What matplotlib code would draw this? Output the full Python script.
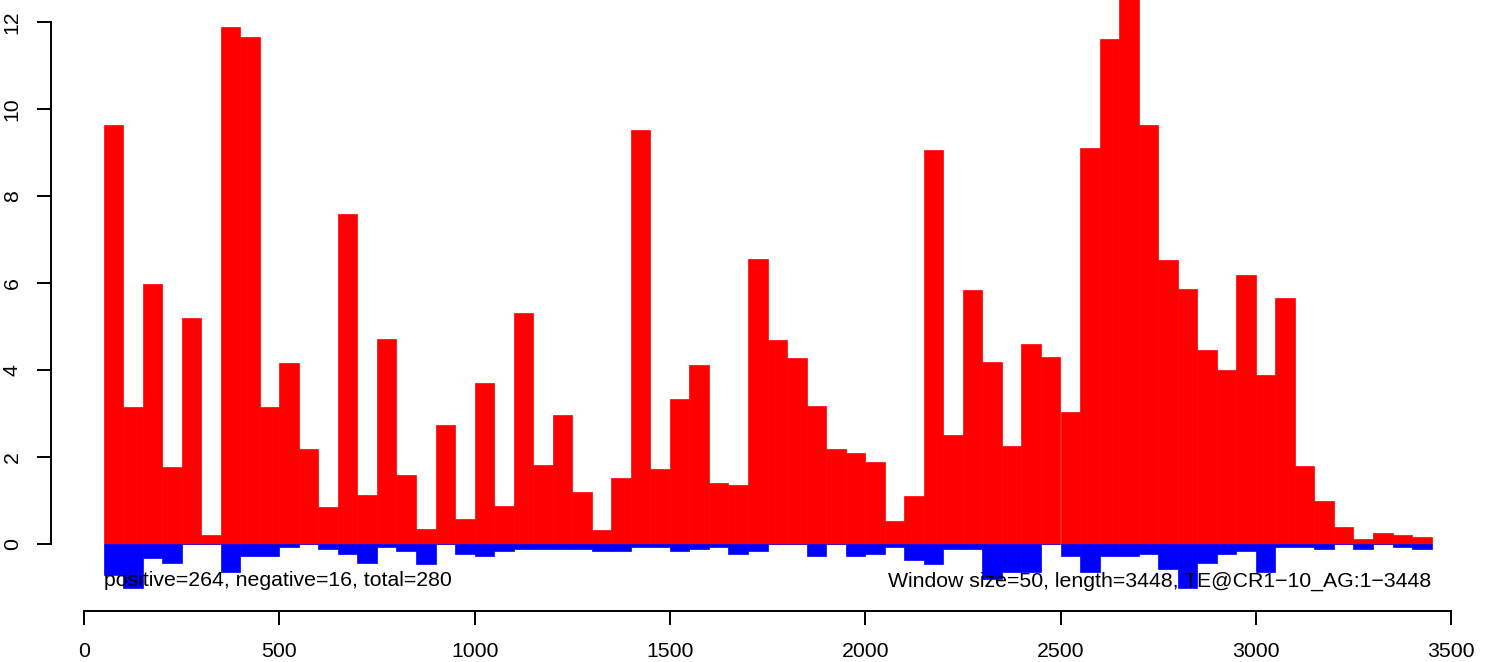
import matplotlib
matplotlib.use("Agg")
import matplotlib.pyplot as plt

plt.rcParams['font.family'] = ['Liberation Sans', 'DejaVu Sans']

window_size = 50
window_starts = list(range(50, 3450, 50))

positive = [9.63, 3.16, 5.98, 1.76, 5.20, 0.21, 11.88, 11.66, 3.16, 4.17,
            2.18, 0.86, 7.59, 1.13, 4.72, 1.59, 0.35, 2.74, 0.57, 3.69,
            0.87, 5.30, 1.81, 2.96, 1.19, 0.32, 1.51, 9.52, 1.72, 3.33,
            4.11, 1.40, 1.35, 6.56, 4.68, 4.27, 3.17, 2.18, 2.09, 1.88,
            0.53, 1.10, 9.06, 2.50, 5.83, 4.18, 2.25, 4.59, 4.31, 3.03,
            9.11, 11.61, 13.0, 9.63, 6.52, 5.87, 4.47, 4.01, 6.19, 3.89,
            5.66, 1.80, 0.98, 0.40, 0.11, 0.25, 0.20, 0.15]

negative = [-0.71, -1.00, -0.32, -0.44, 0.0, 0.0, -0.64, -0.28, -0.28, -0.06,
            0.0, -0.11, -0.23, -0.44, -0.06, -0.15, -0.47, 0.0, -0.23, -0.28,
            -0.15, -0.11, -0.11, -0.11, -0.11, -0.15, -0.15, -0.06, -0.06, -0.15,
            -0.11, -0.06, -0.23, -0.15, 0.0, 0.0, -0.27, 0.0, -0.27, -0.23,
            -0.06, -0.37, -0.47, -0.11, -0.11, -0.80, -0.64, -0.64, 0.0, -0.27,
            -0.64, -0.27, -0.27, -0.23, -0.58, -1.00, -0.44, -0.23, -0.15, -0.64,
            -0.06, -0.06, -0.11, 0.0, -0.11, 0.0, -0.06, -0.11]

x_ticks = [0, 500, 1000, 1500, 2000, 2500, 3000, 3500]
y_ticks = [0, 2, 4, 6, 8, 10, 12]

left_text = "positive=264, negative=16, total=280"
right_text = "Window size=50, length=3448, TE@CR1\u221210_AG:1\u22123448"

W, H = 1493, 662
fig = plt.figure(figsize=(W / 100, H / 100), dpi=100)
ax = fig.add_axes([0, 0, 1, 1])

# pixel mapping
px_x0, px_per_x = 84.0, 0.3906
px_y0, px_per_y = 544.0, 43.5
ax.set_xlim(-px_x0 / px_per_x, (W - px_x0) / px_per_x)
ax.set_ylim(-(H - px_y0) / px_per_y, px_y0 / px_per_y)

ax.bar(window_starts, positive, width=window_size, align='edge',
       color='#FF0000', edgecolor='#FF0000', linewidth=0.5)
ax.bar(window_starts, negative, width=window_size, align='edge',
       color='#0000FF', edgecolor='#0000FF', linewidth=0.5)

fs = 15.3
ax.text(50, -0.83, left_text, ha='left', va='center', fontsize=fs, color='#000000', zorder=5)
ax.text(3450, -0.85, right_text, ha='right', va='center', fontsize=fs, color='#000000', zorder=5)

for s in ['top', 'right']:
    ax.spines[s].set_visible(False)
ax.spines['left'].set_position(('data', (51 - px_x0) / px_per_x))
ax.spines['left'].set_bounds(0, 12)
ax.spines['bottom'].set_position(('data', -(611 - px_y0) / px_per_y))
ax.spines['bottom'].set_bounds(0, 3500)
for s in ['left', 'bottom']:
    ax.spines[s].set_linewidth(1.4)

ax.set_xticks(x_ticks)
ax.set_xticklabels([str(v) for v in x_ticks])
ax.set_yticks(y_ticks)
ax.set_yticklabels([str(v) for v in y_ticks], rotation=90, va='center')
ax.tick_params(axis='both', direction='out', length=10, width=1.4,
               labelsize=fs, pad=12)
ax.tick_params(axis='y', pad=11)
ax.patch.set_visible(False)

fig.savefig("out.png", dpi=100)
